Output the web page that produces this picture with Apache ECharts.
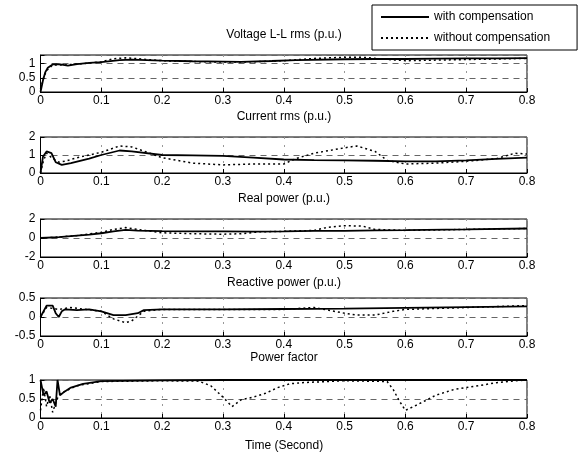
<!DOCTYPE html>
<html>
<head>
<meta charset="utf-8">
<script src="https://cdn.jsdelivr.net/npm/echarts@6/dist/echarts.min.js"></script>
<style>
  html, body { margin: 0; padding: 0; background: #fff; }
  #chart { width: 584px; height: 456px; }
</style>
</head>
<body>
<div id="chart"></div>
<script>
// titles of the five panels + bottom x label
const panelTitles = ['Voltage L-L rms (p.u.)', 'Current rms (p.u.)', 'Real power (p.u.)', 'Reactive power (p.u.)', 'Power factor']
const xLabel = 'Time (Second)'
const legendNames = ['with compensation', 'without compensation']

// y ranges / ticks per panel
const yMin = [0, 0, -2, -0.5, 0]
const yMax = [1.3, 2, 2, 0.5, 1]
const yStep = [0.5, 1, 2, 0.5, 0.5]

// [time, value]
const voltageWith = [[0,0],[0.004,0.4],[0.008,0.7],[0.012,0.85],[0.02,0.97],[0.03,0.98],[0.045,0.93],[0.06,0.98],[0.08,1.02],[0.1,1.05],[0.13,1.12],[0.15,1.14],[0.2,1.1],[0.25,1.08],[0.3,1.07],[0.33,1.06],[0.38,1.09],[0.42,1.12],[0.5,1.15],[0.55,1.16],[0.6,1.16],[0.65,1.17],[0.7,1.18],[0.75,1.18],[0.8,1.19]]
const voltageWithout = [[0,0.1],[0.005,0.5],[0.01,0.75],[0.02,0.95],[0.04,0.95],[0.07,1.0],[0.1,1.06],[0.12,1.17],[0.14,1.2],[0.16,1.17],[0.2,1.1],[0.25,1.07],[0.3,1.05],[0.35,1.06],[0.4,1.1],[0.45,1.18],[0.5,1.22],[0.53,1.22],[0.56,1.16],[0.6,1.1],[0.65,1.12],[0.7,1.14],[0.75,1.16],[0.8,1.18]]

const currentWith = [[0,0],[0.004,0.9],[0.01,1.2],[0.018,1.1],[0.025,0.6],[0.035,0.45],[0.05,0.55],[0.08,0.8],[0.1,1.0],[0.13,1.25],[0.15,1.2],[0.2,1.0],[0.25,0.98],[0.3,0.95],[0.35,0.85],[0.4,0.75],[0.45,0.72],[0.5,0.7],[0.55,0.68],[0.6,0.65],[0.65,0.65],[0.7,0.7],[0.75,0.78],[0.8,0.85]]
const currentWithout = [[0,0],[0.005,0.7],[0.01,1.1],[0.02,0.8],[0.03,0.6],[0.04,0.65],[0.06,0.85],[0.1,1.15],[0.13,1.5],[0.15,1.45],[0.18,1.1],[0.2,0.85],[0.25,0.55],[0.3,0.45],[0.35,0.5],[0.4,0.5],[0.42,0.8],[0.45,1.1],[0.5,1.4],[0.52,1.5],[0.55,1.2],[0.57,0.7],[0.6,0.5],[0.65,0.55],[0.7,0.65],[0.75,0.8],[0.78,1.1],[0.8,1.05]]

const realWith = [[0,0],[0.03,0.1],[0.05,0.2],[0.08,0.35],[0.1,0.5],[0.12,0.7],[0.14,0.85],[0.16,0.78],[0.2,0.72],[0.25,0.7],[0.3,0.7],[0.35,0.68],[0.4,0.7],[0.45,0.75],[0.5,0.75],[0.55,0.8],[0.6,0.82],[0.7,0.9],[0.8,1.0]]
const realWithout = [[0,0],[0.03,0.1],[0.06,0.25],[0.1,0.6],[0.12,0.9],[0.14,1.1],[0.16,0.9],[0.2,0.55],[0.25,0.45],[0.3,0.4],[0.33,0.45],[0.36,0.65],[0.4,0.7],[0.45,0.8],[0.47,1.1],[0.5,1.3],[0.53,1.25],[0.55,0.9],[0.6,0.8],[0.7,0.9],[0.8,1.0]]

const reactiveWith = [[0,0],[0.01,0.3],[0.02,0.3],[0.025,0.1],[0.03,0.0],[0.035,0.15],[0.04,0.2],[0.06,0.18],[0.08,0.2],[0.1,0.15],[0.12,0.05],[0.14,0.05],[0.16,0.1],[0.17,0.18],[0.2,0.2],[0.3,0.2],[0.4,0.21],[0.5,0.22],[0.6,0.24],[0.7,0.26],[0.8,0.28]]
const reactiveWithout = [[0,0],[0.01,0.25],[0.03,0.2],[0.05,0.25],[0.1,0.15],[0.12,-0.05],[0.14,-0.15],[0.15,-0.1],[0.17,0.15],[0.2,0.2],[0.3,0.2],[0.4,0.2],[0.45,0.25],[0.5,0.1],[0.52,0.05],[0.55,0.05],[0.58,0.15],[0.6,0.2],[0.7,0.25],[0.8,0.3]]

const pfWith = [[0,1.0],[0.005,0.6],[0.01,0.7],[0.015,0.4],[0.02,0.5],[0.025,0.3],[0.028,1.0],[0.032,0.6],[0.035,0.55],[0.04,0.7],[0.05,0.8],[0.07,0.9],[0.1,0.97],[0.2,0.99],[0.3,1.0],[0.4,1.0],[0.5,1.0],[0.6,1.0],[0.7,1.0],[0.8,1.0]]
const pfWithout = [[0,0.2],[0.005,0.8],[0.01,0.3],[0.015,0.6],[0.02,0.15],[0.025,0.4],[0.03,0.6],[0.04,0.7],[0.06,0.85],[0.1,0.96],[0.2,0.98],[0.26,0.97],[0.28,0.85],[0.3,0.55],[0.315,0.3],[0.33,0.48],[0.35,0.55],[0.37,0.65],[0.39,0.8],[0.41,0.9],[0.43,0.93],[0.5,0.98],[0.57,0.96],[0.58,0.75],[0.59,0.45],[0.6,0.2],[0.62,0.35],[0.65,0.6],[0.68,0.75],[0.7,0.8],[0.72,0.85],[0.75,0.93],[0.78,0.98],[0.8,1.0]]

const withData = [voltageWith, currentWith, realWith, reactiveWith, pfWith]
const withoutData = [voltageWithout, currentWithout, realWithout, reactiveWithout, pfWithout]

const chart = echarts.init(document.getElementById('chart'))
const font = 'Liberation Sans, Arial, sans-serif'

// panel placement
const gridTop = [55, 137, 219, 298, 380]
const gridH = [37, 36, 38, 38, 38]
const titleY = [29, 111, 193, 277, 352]

const grids = [], xAxes = [], yAxes = [], series = [], titles = []
for (let i = 0; i < 5; i++) {
  grids.push({ left: 40.5, right: 57, top: gridTop[i], height: gridH[i], show: true, borderColor: '#000', borderWidth: 1, containLabel: false })
  xAxes.push({
    type: 'value', gridIndex: i, min: 0, max: 0.8, interval: 0.1,
    axisLine: { onZero: false, lineStyle: { color: '#000' } },
    axisTick: { inside: true, length: 4, lineStyle: { color: '#000' } },
    axisLabel: { color: '#000', fontSize: 12, fontFamily: font, margin: 3,
      formatter: v => v === 0 ? '0' : v.toFixed(1) },
    splitLine: { show: true, lineStyle: { color: '#999', type: [2, 6] } }
  })
  const step = yStep[i]
  yAxes.push({
    type: 'value', gridIndex: i, min: yMin[i], max: yMax[i], interval: step,
    axisLine: { onZero: false, lineStyle: { color: '#000' } },
    axisTick: { inside: true, length: 4, lineStyle: { color: '#000' } },
    axisLabel: { color: '#000', fontSize: 12, fontFamily: font, margin: 5,
      formatter: v => Math.abs(v / step - Math.round(v / step)) < 1e-6 ? String(+v.toFixed(2)) : '' },
    splitLine: { show: true, lineStyle: { color: '#666', type: [6, 5] } }
  })
  series.push({
    name: legendNames[0], type: 'line', xAxisIndex: i, yAxisIndex: i, data: withData[i],
    showSymbol: false, symbol: 'none', lineStyle: { color: '#000', width: 1.8 }, itemStyle: { color: '#000' }
  })
  series.push({
    name: legendNames[1], type: 'line', xAxisIndex: i, yAxisIndex: i, data: withoutData[i],
    showSymbol: false, symbol: 'none', lineStyle: { color: '#000', width: 1.5, type: [2, 3] }, itemStyle: { color: '#000' }
  })
  titles.push({ text: panelTitles[i], left: 284, top: titleY[i], textAlign: 'center', padding: 0,
    textStyle: { fontSize: 12, fontWeight: 'normal', color: '#000', fontFamily: font } })
}
titles.push({ text: xLabel, left: 284, top: 440, textAlign: 'center', padding: 0,
  textStyle: { fontSize: 12, fontWeight: 'normal', color: '#000', fontFamily: font } })

const option = {
  animation: false,
  backgroundColor: '#fff',
  title: titles,
  legend: {
    data: legendNames, orient: 'vertical', left: 372, top: 5,
    padding: [6, 27, 6, 8], itemGap: 9, itemWidth: 48, itemHeight: 10,
    borderColor: '#000', borderWidth: 1, backgroundColor: '#fff',
    itemStyle: { color: 'rgba(0,0,0,0)', borderWidth: 0, opacity: 0 },
    textStyle: { fontSize: 12, color: '#000', fontFamily: font }
  },
  grid: grids,
  xAxis: xAxes,
  yAxis: yAxes,
  series: series
}
chart.setOption(option)
</script>
</body>
</html>
